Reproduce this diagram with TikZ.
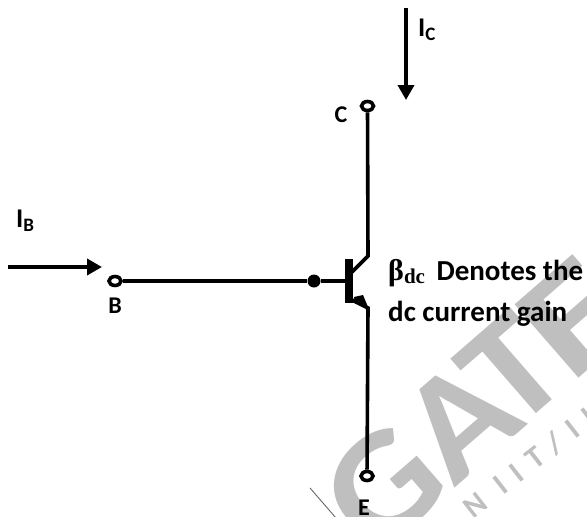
\documentclass[tikz,border=0pt]{standalone}
\usepackage{graphicx}
\usepackage{fontspec}
\setmainfont{Carlito}
\newfontfamily\serifb{Liberation Serif}[Scale=1.0]
\usetikzlibrary{arrows.meta,shapes.geometric}
\colorlet{wm}{black!25}
\newcommand{\subtxt}[1]{\raisebox{-4pt}{\fontsize{19}{19}\selectfont #1}}
\tikzset{
  x=1pt,y=-1pt,
  wire/.style={line width=3.6pt,black},
  term/.style={ellipse,draw=black,fill=white,line width=3.6pt,minimum width=12pt,minimum height=9pt,inner sep=0pt},
  lab/.style={font=\bfseries\fontsize{24}{26}\selectfont,inner sep=0pt,text=black},
  curr/.style={font=\bfseries\fontsize{27}{29}\selectfont,inner sep=0pt,text=black,anchor=base west},
  note/.style={font=\bfseries\fontsize{29}{31}\selectfont,inner sep=0pt,text=black,anchor=base west},
  curarrow/.style={line width=3.6pt,-{Triangle[length=15pt,width=16pt]}},
  wmark/.style={text=wm,font=\bfseries\fontsize{150}{150}\selectfont,inner sep=0pt,rotate=41,anchor=base},
  wsmall/.style={text=wm,font=\bfseries\fontsize{31}{31}\selectfont\addfontfeature{LetterSpace=38},inner sep=0pt,rotate=38}
}
\begin{document}
\begin{tikzpicture}
\useasboundingbox (0,0) rectangle (587,517);
\clip (0,0) rectangle (587,517);
\fill[white] (0,0) rectangle (587,517);
% watermark
\node[wmark] (wg) at (415,523) {\scalebox{1.1}[1]{G}};
\node[wmark] (wa) at (491.5,456) {\scalebox{1.08}[1]{A}};
\node[wmark] (wt) at (544,407) {\scalebox{1.1}[1]{T}};
\node[wmark] (we) at (606,355) {\scalebox{1.29}[1]{E}};
\node[wsmall] (wms) at (529,463) {N IIT/II};
\coordinate (s1) at (310,488);
\coordinate (s2) at (336,518);
\draw[black!60,line width=0.9pt] (s1) -- (s2);
% transistor
\coordinate (bar) at (350,281);
\node[term] (C) at (367.5,106) {};
\node[term] (E) at (367,476) {};
\node[term] (B) at (115,281) {};
\node[circle,fill=black,minimum size=13pt,inner sep=0pt] (dot) at (314,281) {};
\fill[black] (345,259) rectangle (353,303);
\coordinate (cb) at (368,256);
\coordinate (cj) at (352,272);
\coordinate (ej) at (352,300);
\coordinate (eb) at (368,308);
\draw[wire,line join=miter] (C) -- (cb) -- (cj);
\draw[wire] (B) -- (dot) -- (bar);
\draw[wire,line join=miter] (ej) -- (eb) -- (E);
\fill[black] (354,297) -- (363,295) -- (368,307) -- (355,303) -- cycle;
% labels
\node[lab] (lc) at (341,115) {C};
\node[lab] (lb) at (115,306) {B};
\node[lab] (le) at (364,508) {E};
\node[curr] (ic) at (418,36) {I\subtxt{C}};
\node[curr] (ib) at (16,227) {I\subtxt{B}};
\node[note] (t1) at (388,280) {{\serifb\fontsize{30}{30}\selectfont β\raisebox{-3pt}{\fontsize{21}{21}\selectfont dc}}\hspace{5pt} Denotes the};
\node[note] (t2) at (388,321) {dc current gain};
% current arrows
\coordinate (ica) at (406,8);
\coordinate (icb) at (406,100);
\coordinate (iba) at (8,267);
\coordinate (ibb) at (102,267);
\draw[curarrow] (ica) -- (icb);
\draw[curarrow] (iba) -- (ibb);
\end{tikzpicture}
\end{document}
